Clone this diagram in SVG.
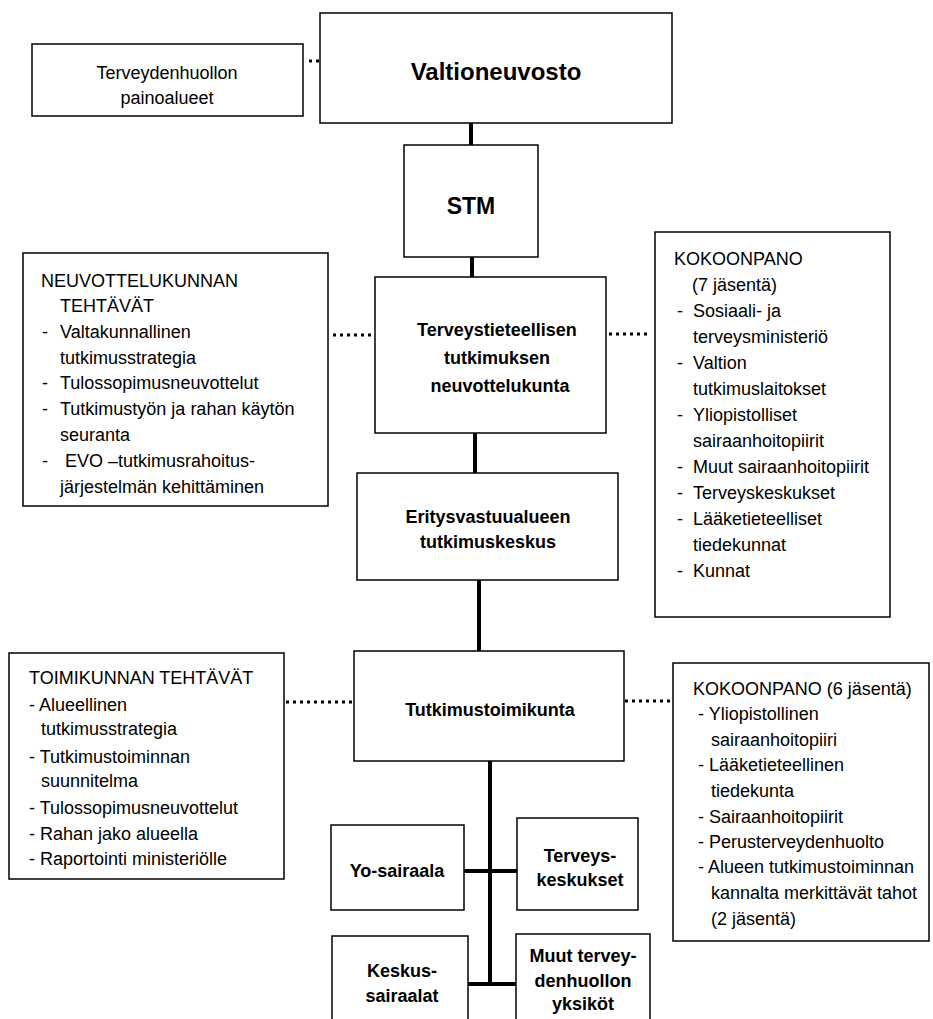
<svg xmlns="http://www.w3.org/2000/svg" width="933" height="1019" viewBox="0 0 933 1019">
<style>
.box{fill:#fff;stroke:#000;stroke-width:1.5}
.t{font-family:"Liberation Sans",Arial,sans-serif;font-size:18px;fill:#000}
.b{font-weight:bold;text-anchor:middle}
.c{text-anchor:middle}
.big{font-size:23px}
.conn{stroke:#000;stroke-width:4;fill:none}
.dot{stroke:#000;stroke-width:3;stroke-dasharray:3 4;fill:none}
</style>
<rect width="933" height="1019" fill="#fff"/>
<g id="connectors">
<line class="conn" x1="471" y1="123" x2="471" y2="145"/>
<line class="conn" x1="472" y1="257" x2="472" y2="277"/>
<line class="conn" x1="475" y1="433" x2="475" y2="473"/>
<line class="conn" x1="479" y1="580" x2="479" y2="651"/>
<line class="conn" x1="490" y1="761" x2="490" y2="984"/>
<line class="conn" x1="464" y1="871" x2="517" y2="871"/>
<line class="conn" x1="468" y1="984" x2="516" y2="984"/>
<line class="dot" x1="309" y1="61" x2="320" y2="61"/>
<line class="dot" x1="333" y1="335" x2="375" y2="335"/>
<line class="dot" x1="609" y1="334" x2="651" y2="334"/>
<line class="dot" x1="286" y1="702" x2="354" y2="702"/>
<line class="dot" x1="625" y1="701" x2="671" y2="701"/>
</g>
<g id="painoalueet">
<rect class="box" x="32" y="44" width="271" height="72"/>
<text class="t c" x="167" y="79">Terveydenhuollon</text>
<text class="t c" x="167" y="104">painoalueet</text>
</g>
<g id="valtioneuvosto">
<rect class="box" x="320" y="13" width="352" height="110"/>
<text class="t b" style="font-size:24px" x="496" y="80">Valtioneuvosto</text>
</g>
<g id="stm">
<rect class="box" x="404" y="145" width="134" height="112"/>
<text class="t b big" x="471" y="214">STM</text>
</g>
<g id="neuvottelukunta">
<rect class="box" x="375" y="277" width="231" height="156"/>
<text class="t b" x="497" y="336">Terveystieteellisen</text>
<text class="t b" x="497" y="364">tutkimuksen</text>
<text class="t b" x="500" y="392">neuvottelukunta</text>
</g>
<g id="neuvottelukunnan-tehtavat">
<rect class="box" x="23" y="253" width="305" height="253"/>
<text class="t" x="41" y="287">NEUVOTTELUKUNNAN</text>
<text class="t" x="60" y="312">TEHTÄVÄT</text>
<text class="t" x="42" y="338">-</text>
<text class="t" x="60" y="338">Valtakunnallinen</text>
<text class="t" x="60" y="364">tutkimusstrategia</text>
<text class="t" x="42" y="389">-</text>
<text class="t" x="60" y="389">Tulossopimusneuvottelut</text>
<text class="t" x="42" y="415">-</text>
<text class="t" x="60" y="415">Tutkimustyön ja rahan käytön</text>
<text class="t" x="60" y="441">seuranta</text>
<text class="t" x="42" y="467">-</text>
<text class="t" x="65" y="467">EVO –tutkimusrahoitus-</text>
<text class="t" x="60" y="493">järjestelmän kehittäminen</text>
</g>
<g id="kokoonpano-7">
<rect class="box" x="655" y="232" width="235" height="385"/>
<text class="t" x="674" y="265">KOKOONPANO</text>
<text class="t" x="692" y="291">(7 jäsentä)</text>
<text class="t" x="677" y="317">-</text>
<text class="t" x="693" y="317">Sosiaali- ja</text>
<text class="t" x="693" y="343">terveysministeriö</text>
<text class="t" x="677" y="369">-</text>
<text class="t" x="693" y="369">Valtion</text>
<text class="t" x="693" y="395">tutkimuslaitokset</text>
<text class="t" x="677" y="421">-</text>
<text class="t" x="693" y="421">Yliopistolliset</text>
<text class="t" x="693" y="447">sairaanhoitopiirit</text>
<text class="t" x="677" y="473">-</text>
<text class="t" x="693" y="473">Muut sairaanhoitopiirit</text>
<text class="t" x="677" y="499">-</text>
<text class="t" x="693" y="499">Terveyskeskukset</text>
<text class="t" x="677" y="525">-</text>
<text class="t" x="693" y="525">Lääketieteelliset</text>
<text class="t" x="693" y="551">tiedekunnat</text>
<text class="t" x="677" y="577">-</text>
<text class="t" x="693" y="577">Kunnat</text>
</g>
<g id="eritysvastuualue">
<rect class="box" x="357" y="473" width="261" height="107"/>
<text class="t b" x="488" y="523">Eritysvastuualueen</text>
<text class="t b" x="488" y="548">tutkimuskeskus</text>
</g>
<g id="toimikunnan-tehtavat">
<rect class="box" x="9" y="653" width="275" height="226"/>
<text class="t" x="29" y="684">TOIMIKUNNAN TEHTÄVÄT</text>
<text class="t" x="29" y="711">- Alueellinen</text>
<text class="t" x="41" y="735">tutkimusstrategia</text>
<text class="t" x="29" y="763">- Tutkimustoiminnan</text>
<text class="t" x="41" y="787">suunnitelma</text>
<text class="t" x="29" y="814">- Tulossopimusneuvottelut</text>
<text class="t" x="29" y="840">- Rahan jako alueella</text>
<text class="t" x="29" y="865">- Raportointi ministeriölle</text>
</g>
<g id="tutkimustoimikunta">
<rect class="box" x="354" y="651" width="270" height="110"/>
<text class="t b" x="490" y="716">Tutkimustoimikunta</text>
</g>
<g id="kokoonpano-6">
<rect class="box" x="673" y="663" width="256" height="278"/>
<text class="t" x="693" y="695">KOKOONPANO (6 jäsentä)</text>
<text class="t" x="698" y="720">- Yliopistollinen</text>
<text class="t" x="711" y="746">sairaanhoitopiiri</text>
<text class="t" x="698" y="771">- Lääketieteellinen</text>
<text class="t" x="711" y="797">tiedekunta</text>
<text class="t" x="698" y="823">- Sairaanhoitopiirit</text>
<text class="t" x="698" y="848">- Perusterveydenhuolto</text>
<text class="t" x="698" y="873">- Alueen tutkimustoiminnan</text>
<text class="t" x="711" y="899">kannalta merkittävät tahot</text>
<text class="t" x="711" y="925">(2 jäsentä)</text>
</g>
<g id="yo-sairaala">
<rect class="box" x="331" y="825" width="133" height="85"/>
<text class="t b" x="397" y="877">Yo-sairaala</text>
</g>
<g id="terveyskeskukset">
<rect class="box" x="517" y="818" width="121" height="92"/>
<text class="t b" x="580" y="862">Terveys-</text>
<text class="t b" x="580" y="886">keskukset</text>
</g>
<g id="keskussairaalat">
<rect class="box" x="332" y="936" width="136" height="100"/>
<text class="t b" x="402" y="977">Keskus-</text>
<text class="t b" x="402" y="1002">sairaalat</text>
</g>
<g id="muut">
<rect class="box" x="516" y="934" width="134" height="100"/>
<text class="t b" x="583" y="962">Muut tervey-</text>
<text class="t b" x="583" y="987">denhuollon</text>
<text class="t b" x="583" y="1010">yksiköt</text>
</g>
</svg>
